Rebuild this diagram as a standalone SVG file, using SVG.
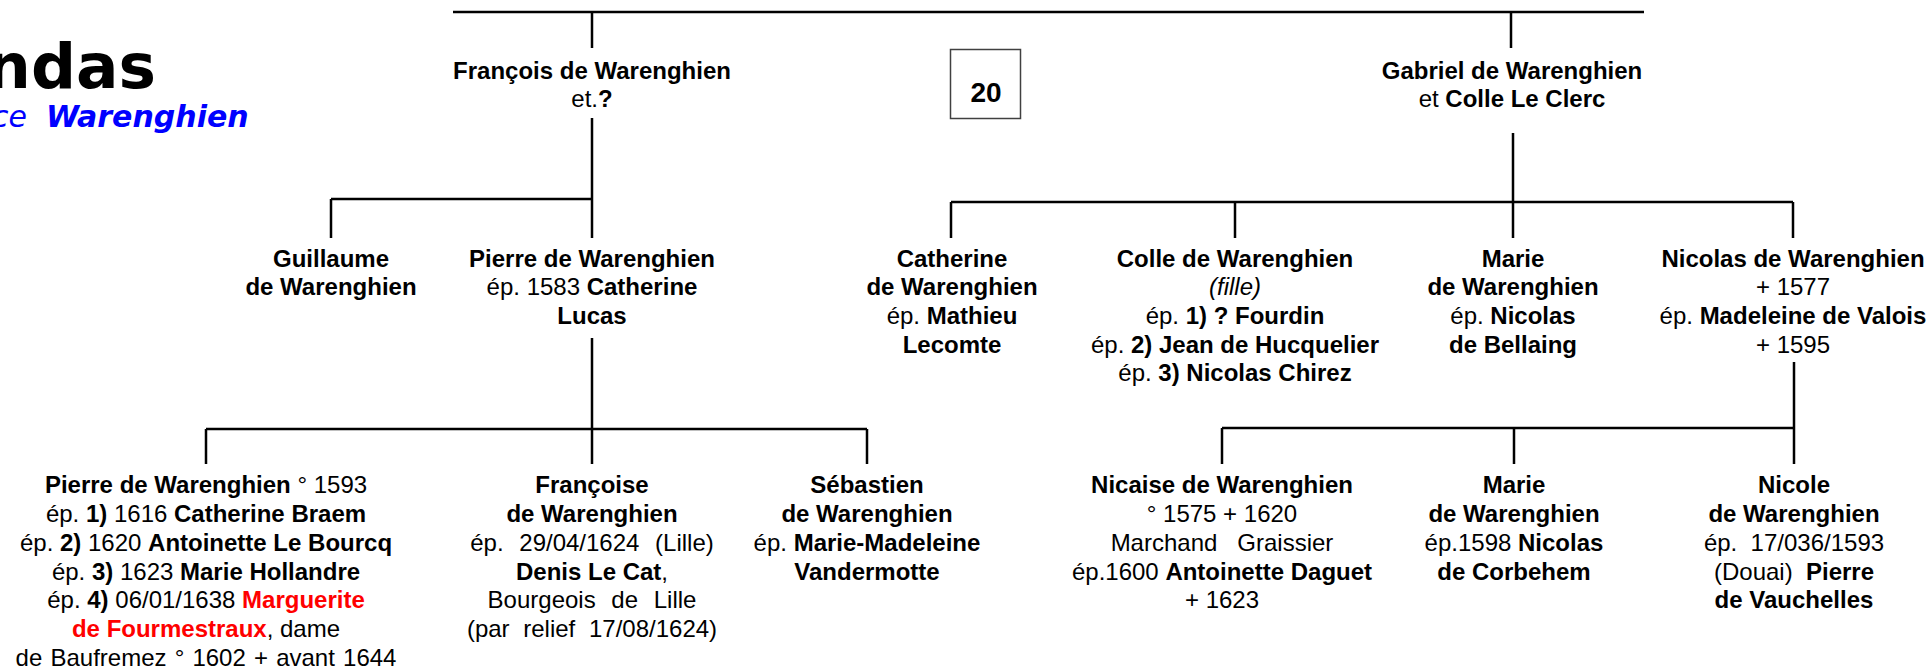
<svg xmlns="http://www.w3.org/2000/svg" width="1931" height="669" viewBox="0 0 1931 669">
<style>
text{font-family:"Liberation Sans",Arial,sans-serif;font-size:24px;fill:#000;text-anchor:middle;white-space:pre}
.b{font-weight:bold}
.i{font-style:italic}
.red{fill:#ff0000}
.ws{word-spacing:9px}
.ttl{font-family:"DejaVu Sans",Verdana,sans-serif;font-weight:bold;font-size:63px;text-anchor:end}
.sub{font-family:"DejaVu Sans",Verdana,sans-serif;font-style:oblique;font-size:30px;fill:#0000ff;text-anchor:start}
.ln{stroke:#000;stroke-width:2.5;fill:none}
</style>
<rect width="1931" height="669" fill="#fff"/>
<g id="title">
<text class="ttl" x="156" y="88">ndas</text>
<text class="sub" x="27" y="127" style="text-anchor:end">ce</text>
<text class="sub" x="46" y="127" font-weight="bold">Warenghien</text>
</g>
<g id="connectors">
<path class="ln" d="M453 12H1644"/>
<path class="ln" d="M592 12V48M1511 12V48"/>
<path class="ln" d="M592 118V199M331 199H592M331 199V238M592 199V238"/>
<path class="ln" d="M1513 133V202M951 202H1793M951 202V238M1235 202V238M1513 202V238M1793 202V238"/>
<path class="ln" d="M592 338V429M206 429H867M206 429V464M592 429V464M867 429V464"/>
<path class="ln" d="M1794 362V428M1222 428H1794M1222 428V464M1514 428V464M1794 428V464"/>
</g>
<g id="box20">
<rect x="950.5" y="49.5" width="70" height="69" fill="#fff" stroke="#404040" stroke-width="1.5"/>
<text class="b" x="986" y="102" style="font-size:28px">20</text>
</g>
<g id="francois">
<text class="b" x="592" y="79">François de Warenghien</text>
<text x="592" y="107">et.<tspan class="b">?</tspan></text>
</g>
<g id="gabriel">
<text class="b" x="1512" y="79">Gabriel de Warenghien</text>
<text x="1512" y="107">et <tspan class="b">Colle Le Clerc</tspan></text>
</g>
<g id="guillaume">
<text class="b" x="331" y="267">Guillaume</text>
<text class="b" x="331" y="295">de Warenghien</text>
</g>
<g id="pierre">
<text class="b" x="592" y="267">Pierre de Warenghien</text>
<text x="592" y="295">ép. 1583 <tspan class="b">Catherine</tspan></text>
<text class="b" x="592" y="324">Lucas</text>
</g>
<g id="catherine">
<text class="b" x="952" y="267">Catherine</text>
<text class="b" x="952" y="295">de Warenghien</text>
<text x="952" y="324">ép. <tspan class="b">Mathieu</tspan></text>
<text class="b" x="952" y="353">Lecomte</text>
</g>
<g id="colle">
<text class="b" x="1235" y="267">Colle de Warenghien</text>
<text class="i" x="1235" y="295">(fille)</text>
<text x="1235" y="324">ép. <tspan class="b">1) ? Fourdin</tspan></text>
<text x="1235" y="353">ép. <tspan class="b">2) Jean de Hucquelier</tspan></text>
<text x="1235" y="381">ép. <tspan class="b">3) Nicolas Chirez</tspan></text>
</g>
<g id="marie1">
<text class="b" x="1513" y="267">Marie</text>
<text class="b" x="1513" y="295">de Warenghien</text>
<text x="1513" y="324">ép. <tspan class="b">Nicolas</tspan></text>
<text class="b" x="1513" y="353">de Bellaing</text>
</g>
<g id="nicolas">
<text class="b" x="1793" y="267">Nicolas de Warenghien</text>
<text x="1793" y="295">+ 1577</text>
<text x="1793" y="324">ép. <tspan class="b">Madeleine de Valois</tspan></text>
<text x="1793" y="353">+ 1595</text>
</g>
<g id="pierre2">
<text x="206" y="493"><tspan class="b">Pierre de Warenghien</tspan> ° 1593</text>
<text x="206" y="522">ép. <tspan class="b">1)</tspan> 1616 <tspan class="b">Catherine Braem</tspan></text>
<text x="206" y="551">ép. <tspan class="b">2)</tspan> 1620 <tspan class="b">Antoinette Le Bourcq</tspan></text>
<text x="206" y="580">ép. <tspan class="b">3)</tspan> 1623 <tspan class="b">Marie Hollandre</tspan></text>
<text x="206" y="608">ép. <tspan class="b">4)</tspan> 06/01/1638 <tspan class="b red">Marguerite</tspan></text>
<text x="206" y="637"><tspan class="b red">de Fourmestraux</tspan>, dame</text>
<text x="206" y="666" style="word-spacing:1.5px">de Baufremez ° 1602 + avant 1644</text>
</g>
<g id="francoise">
<text class="b" x="592" y="493">Françoise</text>
<text class="b" x="592" y="522">de Warenghien</text>
<text class="ws" x="592" y="551">ép. 29/04/1624 (Lille)</text>
<text x="592" y="580"><tspan class="b">Denis Le Cat</tspan>,</text>
<text class="ws" x="592" y="608">Bourgeois de Lille</text>
<text x="592" y="637" style="word-spacing:7px">(par relief 17/08/1624)</text>
</g>
<g id="sebastien">
<text class="b" x="867" y="493">Sébastien</text>
<text class="b" x="867" y="522">de Warenghien</text>
<text x="867" y="551">ép. <tspan class="b">Marie-Madeleine</tspan></text>
<text class="b" x="867" y="580">Vandermotte</text>
</g>
<g id="nicaise">
<text class="b" x="1222" y="493">Nicaise de Warenghien</text>
<text x="1222" y="522">° 1575 + 1620</text>
<text x="1222" y="551">Marchand   Graissier</text>
<text x="1222" y="580">ép.1600 <tspan class="b">Antoinette Daguet</tspan></text>
<text x="1222" y="608">+ 1623</text>
</g>
<g id="marie2">
<text class="b" x="1514" y="493">Marie</text>
<text class="b" x="1514" y="522">de Warenghien</text>
<text x="1514" y="551">ép.1598 <tspan class="b">Nicolas</tspan></text>
<text class="b" x="1514" y="580">de Corbehem</text>
</g>
<g id="nicole">
<text class="b" x="1794" y="493">Nicole</text>
<text class="b" x="1794" y="522">de Warenghien</text>
<text x="1794" y="551">ép.  17/036/1593</text>
<text x="1794" y="580">(Douai)  <tspan class="b">Pierre</tspan></text>
<text class="b" x="1794" y="608">de Vauchelles</text>
</g>
</svg>
